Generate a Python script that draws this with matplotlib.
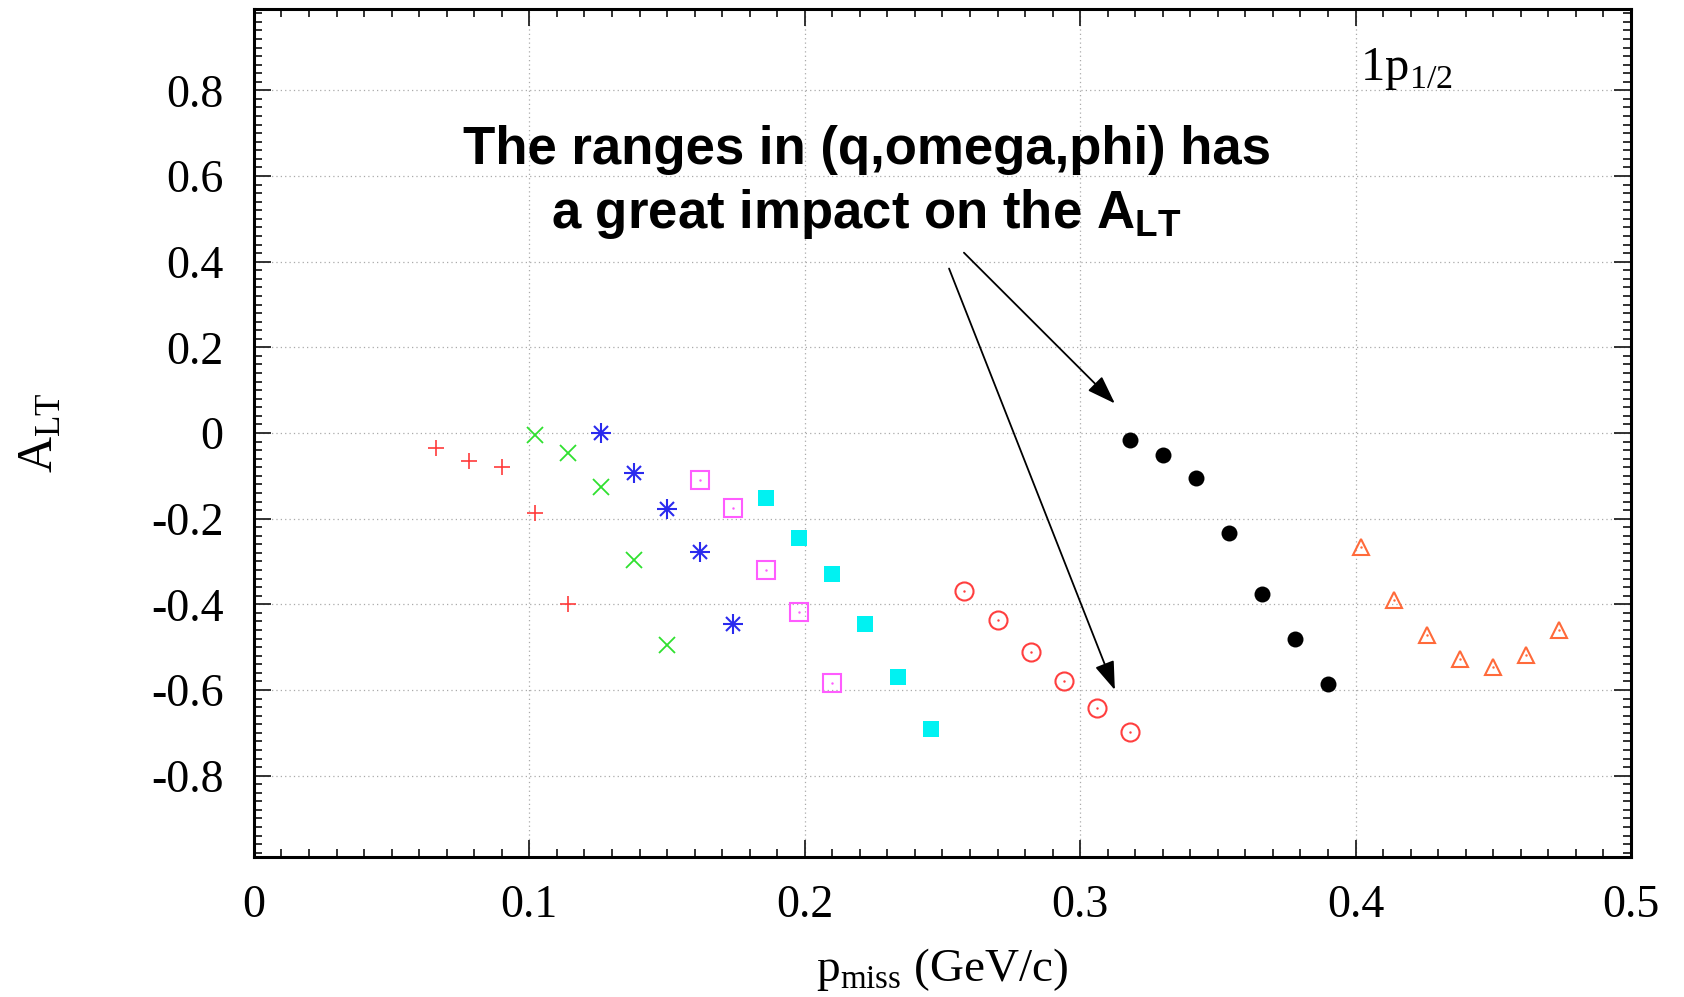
import matplotlib
matplotlib.use("Agg")
import matplotlib.pyplot as plt
from matplotlib.ticker import MultipleLocator

plt.rcParams['font.family'] = ['Liberation Serif', 'DejaVu Serif']
plt.rcParams['mathtext.fontset'] = 'custom'
plt.rcParams['mathtext.rm'] = 'Liberation Serif'
plt.rcParams['mathtext.sf'] = 'Liberation Sans:bold'

# A_LT vs p_miss, one set of points per (q, omega, phi) range
plus_x = [0.066, 0.078, 0.090, 0.102, 0.114]
plus_y = [-0.035, -0.065, -0.079, -0.187, -0.399]

cross_x = [0.102, 0.114, 0.126, 0.138, 0.150]
cross_y = [-0.004, -0.047, -0.125, -0.297, -0.496]

star_x = [0.126, 0.138, 0.150, 0.162, 0.174]
star_y = [0.000, -0.093, -0.177, -0.279, -0.446]

osq_x = [0.162, 0.174, 0.186, 0.198, 0.210]
osq_y = [-0.109, -0.176, -0.319, -0.419, -0.584]

fsq_x = [0.186, 0.198, 0.210, 0.222, 0.234, 0.246]
fsq_y = [-0.152, -0.244, -0.330, -0.446, -0.569, -0.692]

ocirc_x = [0.258, 0.270, 0.282, 0.294, 0.306, 0.318]
ocirc_y = [-0.368, -0.437, -0.512, -0.579, -0.641, -0.697]

fcirc_x = [0.318, 0.330, 0.342, 0.354, 0.366, 0.378, 0.390]
fcirc_y = [-0.016, -0.051, -0.104, -0.233, -0.376, -0.480, -0.586]

tri_x = [0.402, 0.414, 0.426, 0.438, 0.450, 0.462, 0.474]
tri_y = [-0.267, -0.389, -0.471, -0.527, -0.546, -0.519, -0.460]

xticks = [0, 0.1, 0.2, 0.3, 0.4, 0.5]
xticklabels = ['0', '0.1', '0.2', '0.3', '0.4', '0.5']
yticks = [-0.8, -0.6, -0.4, -0.2, 0, 0.2, 0.4, 0.6, 0.8]
yticklabels = ['-0.8', '-0.6', '-0.4', '-0.2', '0', '0.2', '0.4', '0.6', '0.8']

fig = plt.figure(figsize=(16.84, 9.97), dpi=100)
ax = fig.add_axes([0.1508, 0.1404, 0.8177, 0.8506])

ax.plot(plus_x, plus_y, ls='none', marker='+', ms=12, mew=1.2, color='#ff3b3b')
ax.plot(cross_x, cross_y, ls='none', marker='x', ms=11, mew=1.3, color='#2fe02f')
# gnuplot style star: plus and cross on top of each other
ax.plot(star_x, star_y, ls='none', marker='+', ms=14, mew=1.5, color='#2a2aee')
ax.plot(star_x, star_y, ls='none', marker='x', ms=10.5, mew=1.5, color='#2a2aee')
ax.plot(osq_x, osq_y, ls='none', marker='s', ms=12.5, mew=1.5, mfc='none', color='#ff5cff')
ax.plot(fsq_x, fsq_y, ls='none', marker='s', ms=11.5, mew=0, color='#00f2f2')
ax.plot(ocirc_x, ocirc_y, ls='none', marker='o', ms=13, mew=1.5, mfc='none', color='#ff3f3f')
ax.plot(fcirc_x, fcirc_y, ls='none', marker='o', ms=11.5, mew=0, color='black')
ax.plot(tri_x, tri_y, ls='none', marker='^', ms=12, mew=1.5, mfc='none', color='#ff6a3a')
# small centre dots of the open symbols
ax.plot(osq_x, osq_y, ls='none', marker='.', ms=1.5, color='#ff5cff')
ax.plot(ocirc_x, ocirc_y, ls='none', marker='.', ms=1.5, color='#ff3f3f')
ax.plot(tri_x, tri_y, ls='none', marker='.', ms=1.5, color='#ff6a3a')

ax.set_xlim(0, 0.5)
ax.set_ylim(-0.99, 0.99)
ax.set_xticks(xticks)
ax.set_xticklabels(xticklabels)
ax.set_yticks(yticks)
ax.set_yticklabels(yticklabels)
ax.xaxis.set_minor_locator(MultipleLocator(0.01))
ax.yaxis.set_minor_locator(MultipleLocator(0.02))
ax.tick_params(which='both', direction='in', top=True, right=True, width=1.3, color='#222222')
ax.tick_params(which='major', length=12)
ax.tick_params(which='minor', length=6)
ax.tick_params(axis='x', labelsize=33, pad=20)
ax.tick_params(axis='y', labelsize=33, pad=22)
for sp in ax.spines.values():
    sp.set_linewidth(2.2)

ax.grid(which='major', color='#aaaaaa', linestyle=(0, (1, 2.5)), linewidth=0.9)

ax.set_xlabel(r'$\mathrm{p}_{\mathrm{miss}}$ (GeV/c)', fontsize=34)
ax.xaxis.set_label_coords(0.5, -0.105)
ax.set_ylabel(r'$\mathrm{A}_{\mathrm{LT}}$', fontsize=36)
ax.yaxis.set_label_coords(-0.138, 0.5)

ax.text(0.803, 0.916, r'$\mathrm{1p}_{\mathrm{1/2}}$', transform=ax.transAxes,
        fontsize=35, ha='left', va='baseline')

note = dict(transform=ax.transAxes, fontsize=38, fontweight='bold',
            family='Liberation Sans', ha='center', va='baseline')
ax.text(0.445, 0.817, 'The ranges in (q,omega,phi) has', **note)
ax.text(0.445, 0.742, r'a great impact on the A$_{\mathsf{LT}}$', **note)

arrow = dict(arrowstyle='-|>,head_length=0.8,head_width=0.28', color='black',
             lw=1.3, mutation_scale=22, shrinkA=0, shrinkB=0)
ax.annotate('', xy=(0.3126, 0.069), xytext=(0.2578, 0.421), arrowprops=arrow)
ax.annotate('', xy=(0.3126, -0.600), xytext=(0.2524, 0.384), arrowprops=arrow)

fig.savefig('out.png', dpi=100)
